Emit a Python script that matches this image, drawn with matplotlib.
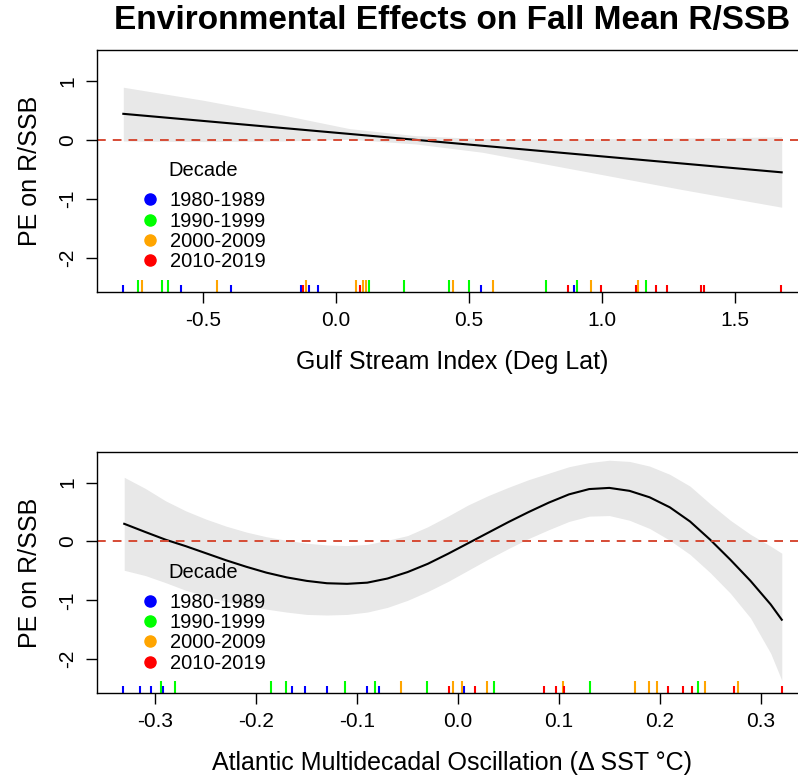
import matplotlib

matplotlib.use("Agg")
import matplotlib.pyplot as plt
import matplotlib.transforms as mtransforms
from matplotlib.lines import Line2D

plt.rcParams["font.family"] = ["Liberation Sans", "DejaVu Sans"]
plt.rcParams["axes.unicode_minus"] = False

W, H = 798, 778
BAND = "#E8E8E8"
ZERO = "#D64B35"

DECADES = ["1980-1989", "1990-1999", "2000-2009", "2010-2019"]
DEC_COLORS = ["#0000FF", "#00FF00", "#FFA500", "#FF0000"]
RUG_LEN = [0.03, 0.05, 0.05, 0.03]   # axes fraction, as in the original

# --- Gulf Stream Index panel ---
gsi_x = [-0.80, -0.50, -0.20, 0.05, 0.30, 0.55, 0.80, 1.05, 1.30, 1.50, 1.676]
gsi_fit = [0.44, 0.32, 0.20, 0.10, 0.00, -0.10, -0.20, -0.30, -0.40, -0.48, -0.55]
gsi_hi = [0.89, 0.67, 0.42, 0.19, 0.07, 0.02, 0.01, 0.02, 0.03, 0.04, 0.05]
gsi_lo = [-0.02, -0.03, -0.02, 0.01, -0.07, -0.21, -0.42, -0.63, -0.84, -1.00, -1.14]
gsi_80s = [-0.80, -0.583, -0.395, -0.132, -0.102, -0.067, 0.546, 0.896]
gsi_90s = [-0.743, -0.653, -0.633, 0.124, 0.257, 0.425, 0.499, 0.788, 0.905, 1.167]
gsi_00s = [-0.730, -0.446, -0.114, 0.074, 0.102, 0.113, 0.441, 0.589, 0.959, 1.135]
gsi_10s = [-0.125, 0.090, 0.873, 0.995, 1.128, 1.202, 1.244, 1.372, 1.385, 1.673]

# --- AMO panel ---
amo_x = [-0.331, -0.31, -0.29, -0.27, -0.25, -0.23, -0.21, -0.19, -0.17, -0.15,
         -0.13, -0.11, -0.09, -0.07, -0.05, -0.03, -0.01, 0.01, 0.03, 0.05,
         0.07, 0.09, 0.11, 0.13, 0.15, 0.17, 0.19, 0.21, 0.23, 0.25,
         0.27, 0.29, 0.31, 0.321]
amo_fit = [0.30, 0.16, 0.03, -0.08, -0.20, -0.32, -0.43, -0.53, -0.61, -0.67,
           -0.71, -0.72, -0.70, -0.63, -0.52, -0.38, -0.21, -0.03, 0.15, 0.33,
           0.50, 0.66, 0.80, 0.89, 0.91, 0.86, 0.75, 0.58, 0.34, 0.03,
           -0.31, -0.67, -1.07, -1.33]
amo_hi = [1.09, 0.90, 0.69, 0.52, 0.38, 0.26, 0.16, 0.08, 0.02, -0.03,
          -0.06, -0.07, -0.05, 0.02, 0.10, 0.25, 0.43, 0.62, 0.78, 0.92,
          1.05, 1.16, 1.27, 1.34, 1.38, 1.36, 1.28, 1.14, 0.94, 0.64,
          0.36, 0.12, -0.08, -0.20]
amo_lo = [-0.49, -0.58, -0.70, -0.83, -0.93, -1.02, -1.09, -1.15, -1.20, -1.24,
          -1.25, -1.24, -1.20, -1.12, -1.00, -0.85, -0.68, -0.49, -0.30, -0.12,
          0.05, 0.20, 0.34, 0.43, 0.44, 0.36, 0.22, 0.02, -0.22, -0.53,
          -0.88, -1.30, -1.90, -2.36]
amo_80s = [-0.332, -0.315, -0.304, -0.293, -0.165, -0.152, -0.130, -0.090, -0.078, 0.006]
amo_90s = [-0.295, -0.281, -0.185, -0.171, -0.112, -0.082, -0.031, 0.036, 0.131, 0.238]
amo_00s = [-0.057, -0.005, 0.004, 0.029, 0.104, 0.175, 0.189, 0.197, 0.245, 0.278]
amo_10s = [-0.009, 0.017, 0.085, 0.097, 0.105, 0.208, 0.223, 0.232, 0.274, 0.321]

YTICKS = [-2, -1, 0, 1]
YLIM = (-2.575, 1.52)


def px_axes(left, top, right, bottom):
    return [left / W, 1 - bottom / H, (right - left) / W, (bottom - top) / H]


def panel(ax, x, fit, lo, hi, rugs, xlim, xticks, xlabel):
    ax.fill_between(x, lo, hi, color=BAND, lw=0)
    ax.plot(x, fit, color="black", lw=1.5)
    ax.axhline(0, color=ZERO, lw=1.4, dashes=(4.5, 3.6))
    trans = mtransforms.blended_transform_factory(ax.transData, ax.transAxes)
    for vals, c, h in zip(rugs, DEC_COLORS, RUG_LEN):
        ax.vlines(vals, 0, h, transform=trans, color=c, lw=1.5)

    ax.set_xlim(*xlim)
    ax.set_ylim(*YLIM)
    ax.set_xticks(xticks)
    ax.set_xticklabels([f"{t:.1f}" for t in xticks])
    ax.set_yticks(YTICKS)
    ax.set_yticklabels([str(t) for t in YTICKS], rotation=90, va="center")
    ax.tick_params(direction="out", length=8, width=1, labelsize=15, pad=6)
    for s in ax.spines.values():
        s.set_linewidth(1.0)
    ax.set_xlabel(xlabel, fontsize=18, labelpad=14)
    ax.set_ylabel("PE on R/SSB", fontsize=18, labelpad=12)

    # legend: dots + labels, title as separate text
    handles = [Line2D([], [], marker="o", ls="", color=c, markersize=8) for c in DEC_COLORS]
    ax.legend(handles, DECADES, loc="upper left", bbox_to_anchor=(0.060, 0.416),
              frameon=False, fontsize=14.5, handlelength=1.0, handletextpad=0.5,
              labelspacing=0.065, borderpad=0, borderaxespad=0)
    ax.text(0.149, 0.50, "Decade", transform=ax.transAxes, fontsize=14.5,
            ha="center", va="center")


fig = plt.figure(figsize=(W / 100, H / 100), dpi=100)
ax1 = fig.add_axes(px_axes(97, 50, 808, 292))
ax2 = fig.add_axes(px_axes(97, 452, 808, 693))

panel(ax1, gsi_x, gsi_fit, gsi_lo, gsi_hi, [gsi_80s, gsi_90s, gsi_00s, gsi_10s],
      (-0.899, 1.775), [-0.5, 0.0, 0.5, 1.0, 1.5], "Gulf Stream Index (Deg Lat)")
panel(ax2, amo_x, amo_fit, amo_lo, amo_hi, [amo_80s, amo_90s, amo_00s, amo_10s],
      (-0.358, 0.347), [-0.3, -0.2, -0.1, 0.0, 0.1, 0.2, 0.3],
      "Atlantic Multidecadal Oscillation (\u0394 SST \u00b0C)")

fig.text(452 / W, 1 - 20 / H, "Environmental Effects on Fall Mean R/SSB",
         fontsize=24, fontweight="bold", ha="center", va="center")

fig.savefig("out.png", dpi=100, facecolor="white")
